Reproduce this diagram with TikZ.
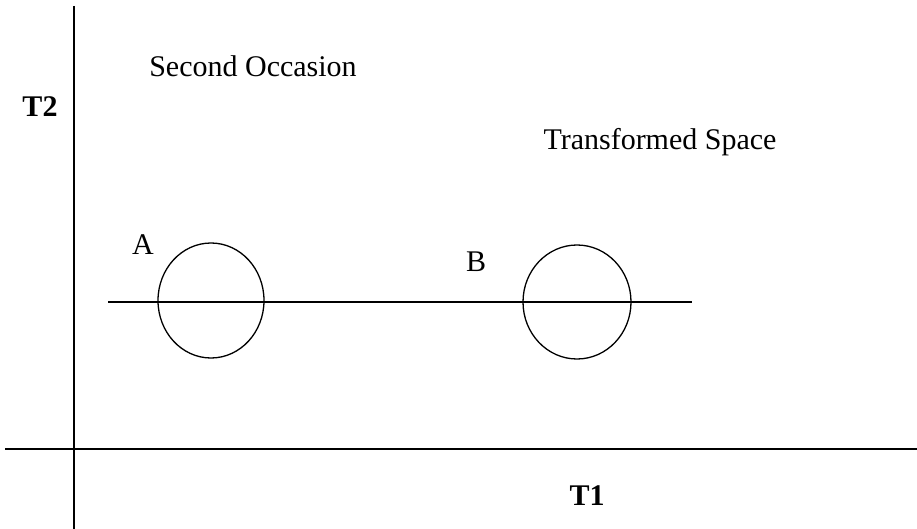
\documentclass[tikz,border=0pt]{standalone}
\usepackage{fontspec}
\newfontfamily\reffont{Liberation Serif}
\begin{document}
\begin{tikzpicture}[x=1pt,y=-1pt,
  lbl/.style={inner sep=0pt,font=\reffont\fontsize{30}{36}\selectfont},
  blbl/.style={inner sep=0pt,font=\reffont\fontsize{30}{36}\selectfont\bfseries},
  ln/.style={line width=1.3pt,black}]
\useasboundingbox (0,0) rectangle (917,529);
\coordinate (vt) at (74,6);
\coordinate (vb) at (74,529);
\coordinate (hl) at (5,449);
\coordinate (hr) at (917,449);
\draw[ln] (vt) -- (vb);
\draw[ln] (hl) -- (hr);
\coordinate (ll) at (108,302);
\coordinate (lr) at (692,302);
\draw[ln] (ll) -- (lr);
\draw[ln] (211,300.5) ellipse (53pt and 57.5pt);
\draw[ln] (577,302) ellipse (54pt and 57pt);
\node[blbl] (t2) at (40,107) {T2};
\node[blbl] (t1) at (587,496) {T1};
\node[lbl] (so) at (253,66) {Second Occasion};
\node[lbl] (ts) at (660,142) {Transformed Space};
\node[lbl] (a) at (143,245) {A};
\node[lbl] (b) at (476,262) {B};
\end{tikzpicture}
\end{document}
